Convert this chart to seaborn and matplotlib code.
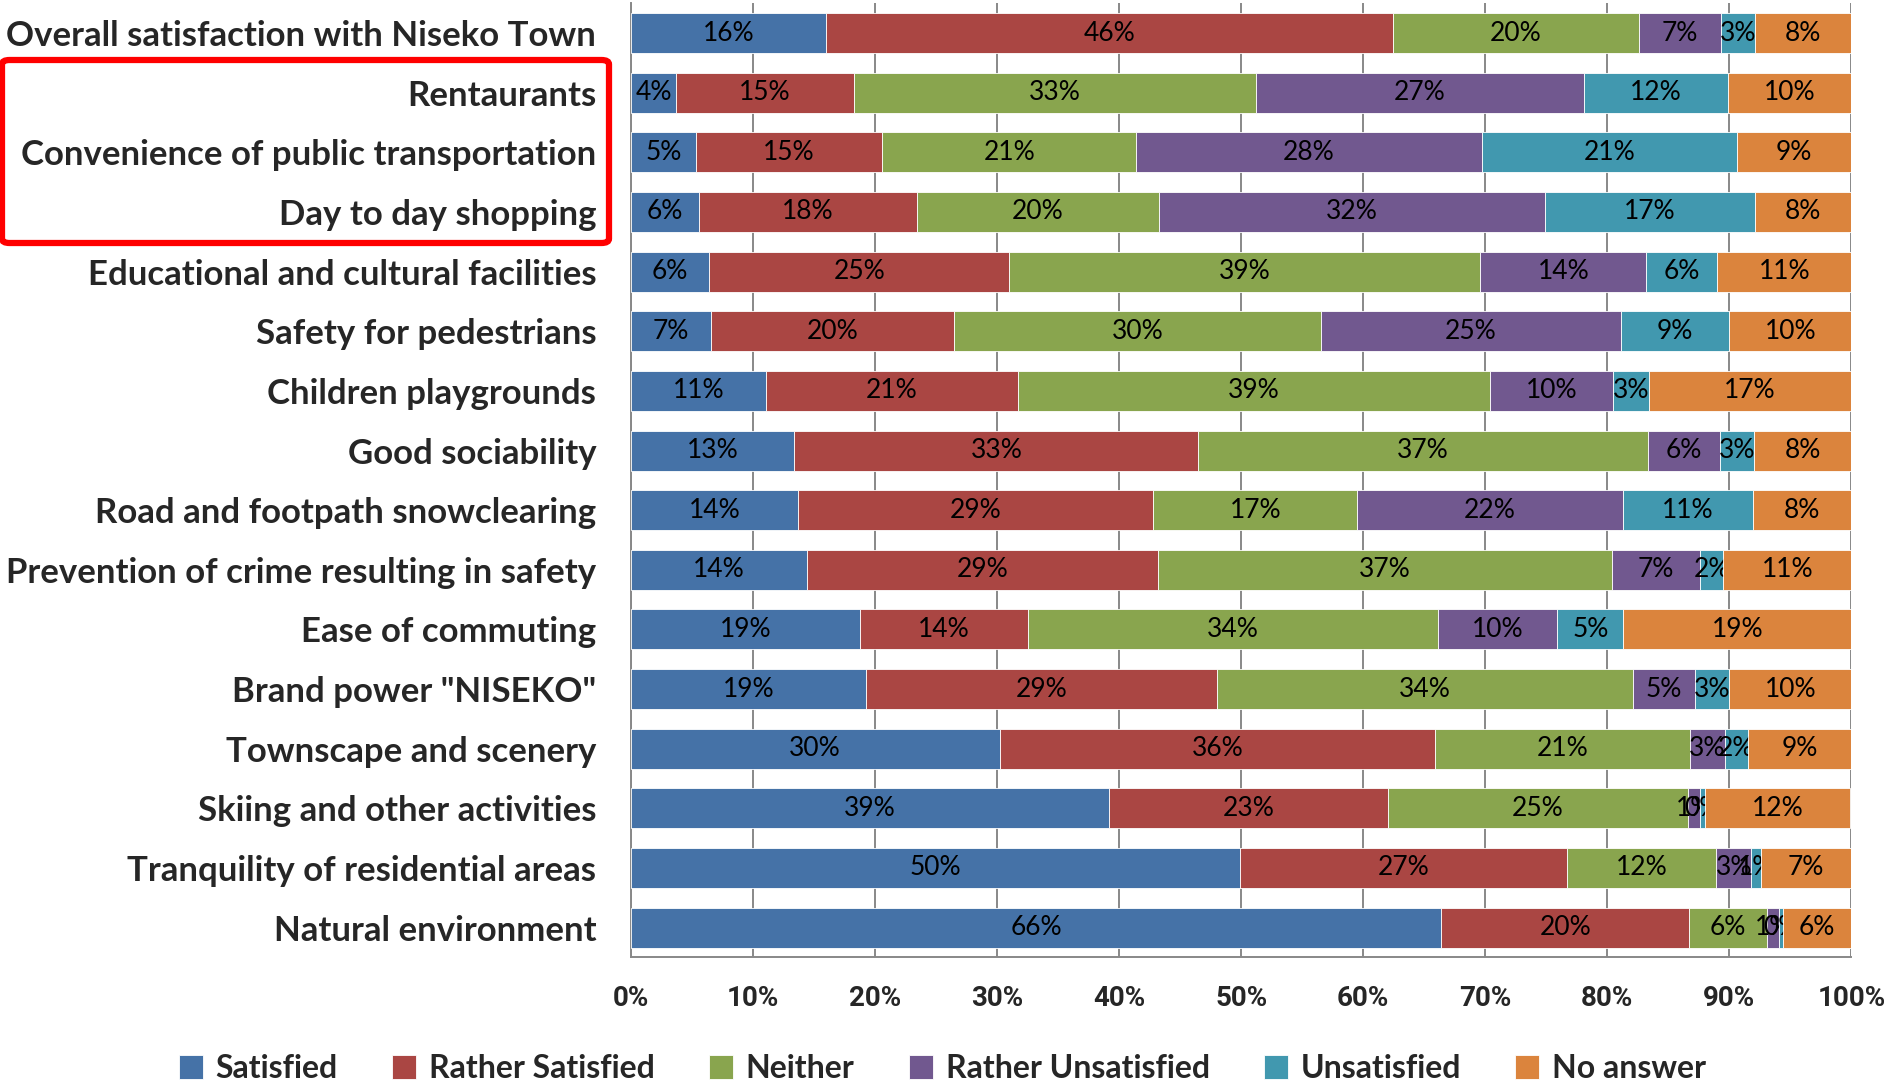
import numpy as np
import matplotlib
matplotlib.use("Agg")
import matplotlib.pyplot as plt
import seaborn as sns
from matplotlib.patches import FancyBboxPatch
from matplotlib.ticker import FixedLocator

# категорії (зверху вниз)
items = [
    "Overall satisfaction with Niseko Town",
    "Rentaurants",
    "Convenience of public transportation",
    "Day to day shopping",
    "Educational and cultural facilities",
    "Safety for pedestrians",
    "Children playgrounds",
    "Good sociability",
    "Road and footpath snowclearing",
    "Prevention of crime resulting in safety",
    "Ease of commuting",
    "Brand power \"NISEKO\"",
    "Townscape and scenery",
    "Skiing and other activities",
    "Tranquility of residential areas",
    "Natural environment",
]

answers = ["Satisfied", "Rather Satisfied", "Neither",
           "Rather Unsatisfied", "Unsatisfied", "No answer"]

satisfied = [16.0, 3.7, 5.3, 5.6, 6.4, 6.6, 11.1, 13.4, 13.7, 14.4, 18.8, 19.3, 30.2, 39.2, 49.9, 66.4]
rather_satisfied = [46.4, 14.6, 15.3, 17.8, 24.6, 19.9, 20.6, 33.1, 29.1, 28.8, 13.7, 28.7, 35.7, 22.8, 26.8, 20.3]
neither = [20.2, 32.9, 20.8, 19.9, 38.6, 30.0, 38.7, 36.8, 16.7, 37.2, 33.6, 34.1, 20.9, 24.6, 12.2, 6.4]
rather_unsatisfied = [6.7, 26.9, 28.3, 31.6, 13.6, 24.6, 10.1, 5.9, 21.8, 7.2, 9.8, 5.1, 2.8, 1.0, 2.9, 1.0]
unsatisfied = [2.8, 11.8, 20.9, 17.2, 5.8, 8.9, 2.9, 2.8, 10.6, 1.9, 5.4, 2.8, 1.9, 0.4, 0.8, 0.3]
no_answer = [7.9, 10.1, 9.4, 7.9, 11.0, 10.0, 16.7, 8.0, 8.2, 10.6, 18.7, 10.0, 8.6, 11.9, 7.4, 5.6]

series = [satisfied, rather_satisfied, neither, rather_unsatisfied, unsatisfied, no_answer]
colors = ["#4572A7", "#AA4643", "#89A54E", "#71588F", "#4198AF", "#DB843D"]

sns.set_style("white")
plt.rcParams["font.family"] = ["Lato", "DejaVu Sans"]
plt.rcParams["font.weight"] = "bold"

fig = plt.figure(figsize=(18.85, 10.88), dpi=100)
ax = fig.add_axes([0.3347, 0.120, 0.6475, 0.877])

y = np.arange(len(items))
left = np.zeros(len(items))
for name, vals, col in zip(answers, series, colors):
    vals = np.array(vals)
    bars = ax.barh(y, vals, left=left, height=0.67, color=col, label=name,
                   edgecolor="white", linewidth=0.6, zorder=3)
    ax.bar_label(bars, labels=[f"{v:.0f}%" for v in vals], label_type="center",
                 fontsize=19, fontweight="normal", color="black")
    left += vals

ax.set_xlim(0, 100)
ax.set_ylim(len(items) - 0.5, -0.5)
ax.set_yticks(y)
ax.set_yticklabels(items, fontsize=25, fontweight="bold")
ax.yaxis.set_minor_locator(FixedLocator(np.arange(-0.5, len(items), 1)))
ax.tick_params(axis="y", which="major", length=0, pad=25)
ax.tick_params(axis="y", which="minor", length=8, color="#888888", width=1.2)

# підписи осі X
ax.set_xticks(np.arange(0, 101, 10))
ax.set_xticklabels([f"{t}%" for t in range(0, 101, 10)], fontsize=20,
                   fontweight="bold", family=["Roboto", "DejaVu Sans"])
ax.tick_params(axis="x", length=10, color="#888888", width=1.2, pad=10)
ax.grid(axis="x", color="#888888", linewidth=1.4, zorder=0)

for s in ["top", "right"]:
    ax.spines[s].set_visible(False)
for s in ["left", "bottom"]:
    ax.spines[s].set_color("#888888")
    ax.spines[s].set_linewidth(1.4)

leg = fig.legend(loc="lower center", bbox_to_anchor=(0.5, -0.022), ncol=6,
                 frameon=False, handlelength=0.75, handleheight=0.75,
                 columnspacing=1.7, handletextpad=0.4,
                 prop={"size": 23, "weight": "bold"})

# червона рамка навколо трьох підписів
box = FancyBboxPatch((2 / 1885, 1 - 243 / 1088), 607 / 1885, 183 / 1088,
                     boxstyle="round,pad=0,rounding_size=0.004",
                     transform=fig.transFigure, fill=False,
                     edgecolor="red", linewidth=4.5, zorder=10)
fig.patches.append(box)

fig.savefig("out.png", dpi=100)
